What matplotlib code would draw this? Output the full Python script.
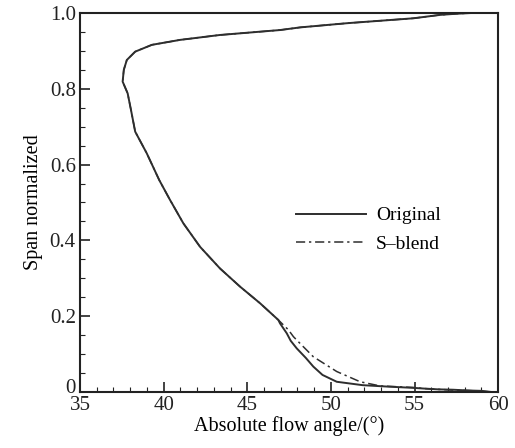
import matplotlib
matplotlib.use('Agg')
import matplotlib.pyplot as plt
import matplotlib.transforms as mtransforms
from matplotlib.ticker import MultipleLocator

plt.rcParams['font.family'] = ['Liberation Serif', 'DejaVu Serif']
plt.rcParams['mathtext.fontset'] = 'stix'

# ---- data (angle in deg, normalized span) ----
orig_angle = [59.6, 59.0, 58.2, 57.3, 56.4, 55.6, 54.9, 53.5, 51.9, 50.35, 49.5,
              48.95, 48.5, 47.96, 47.6, 47.36, 46.96, 46.86, 45.77, 44.57,
              43.37, 42.18, 41.18, 40.38, 39.74, 38.99, 38.3, 38.05, 37.85,
              37.55, 37.62, 37.8, 38.3, 39.3, 40.98, 43.37, 46.96, 48.16,
              50.95, 54.93, 56.53, 57.5, 58.4]
orig_span = [0.0, 0.003, 0.004, 0.006, 0.007, 0.009, 0.011, 0.014, 0.018, 0.027, 0.045,
             0.067, 0.090, 0.115, 0.135, 0.155, 0.181, 0.190, 0.234, 0.278,
             0.326, 0.383, 0.445, 0.507, 0.559, 0.630, 0.687, 0.744, 0.788,
             0.819, 0.850, 0.876, 0.898, 0.916, 0.929, 0.942, 0.955, 0.962,
             0.973, 0.986, 0.995, 0.998, 1.0]

blend_angle = [59.6, 59.0, 58.2, 57.3, 56.4, 55.6, 54.9, 52.94, 51.75, 50.35,
               48.95, 48.16, 47.76, 47.46, 46.86]
blend_span = [0.0, 0.002, 0.004, 0.005, 0.007, 0.009, 0.012, 0.016, 0.027, 0.054,
              0.093, 0.128, 0.146, 0.164, 0.190]
# above ~0.19 span S-blend coincides with the original
blend_angle = blend_angle + orig_angle[18:]
blend_span = blend_span + orig_span[18:]

y_ticks = [0, 0.2, 0.4, 0.6, 0.8, 1.0]
y_labels = ['0', '0.2', '0.4', '0.6', '0.8', '1.0']

fig = plt.figure(figsize=(5.15, 4.48), dpi=100)
ax = fig.add_axes([0.1553, 0.125, 0.812, 0.846])

ax.plot(orig_angle, orig_span, color='#2e2e2e', lw=1.4, label='Original')
ax.plot(blend_angle, blend_span, color='#2e2e2e', lw=1.1,
        dashes=(6, 2.5, 1.5, 2.5), label='S\u2013blend')

ax.set_xlim(35, 60)
ax.set_ylim(0, 1.0)
ax.xaxis.set_major_locator(MultipleLocator(5))
ax.xaxis.set_minor_locator(MultipleLocator(1))
ax.yaxis.set_minor_locator(MultipleLocator(0.05))
ax.set_yticks(y_ticks)
ax.set_yticklabels(y_labels)
ax.tick_params(which='both', direction='in', top=False, right=False,
               labelsize=15, colors='#222222', pad=3)
ax.tick_params(which='major', length=7, width=1.2)
ax.tick_params(which='minor', length=3.5, width=0.8)
for s in ax.spines.values():
    s.set_linewidth(1.5)
    s.set_color('#222222')

# the "0" label sits a little higher so it clears the "35"
zero_lbl = ax.get_yticklabels()[0]
zero_lbl.set_transform(zero_lbl.get_transform() +
                       mtransforms.ScaledTranslation(0, 4 / 72, fig.dpi_scale_trans))

ax.set_xlabel('Absolute flow angle/(°)', fontsize=14.5, labelpad=1)
ax.set_ylabel('Span normalized', fontsize=14.5, labelpad=5)

ax.legend(loc='upper left', bbox_to_anchor=(0.475, 0.535), frameon=False,
          fontsize=14, handlelength=3.6, handletextpad=0.5, labelspacing=0.55)

fig.savefig('out.png', dpi=100)
